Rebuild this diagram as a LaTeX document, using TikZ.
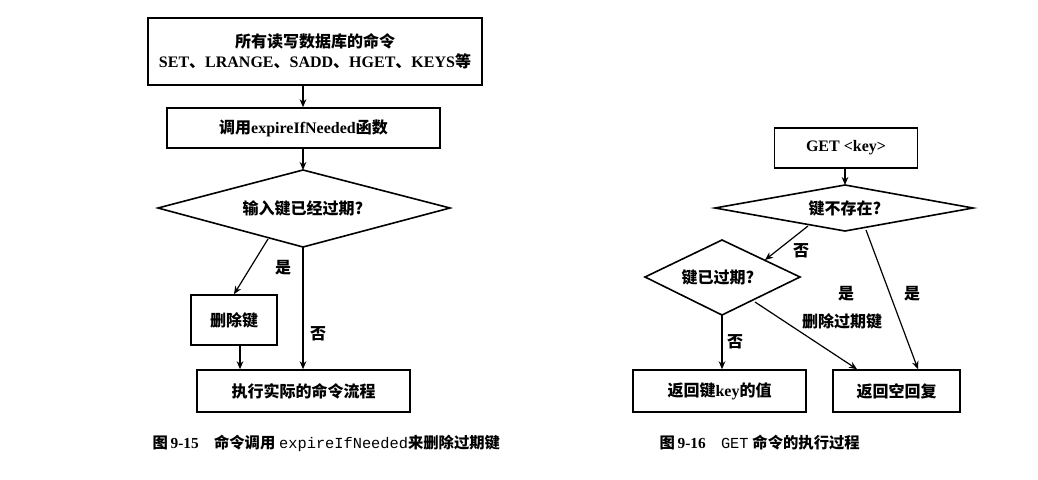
\documentclass[tikz,border=0pt]{standalone}
\usepackage{fontspec}
\setmainfont{Liberation Serif}
\setmonofont{Liberation Mono}
\newfontfamily\zhf{Noto Sans CJK SC}
\newcommand{\zh}[1]{{\zhf #1}}
\usetikzlibrary{shapes.geometric,arrows.meta}
\begin{document}
\begin{tikzpicture}[x=0.75pt,y=-0.75pt,
  box/.style={draw,line width=1.2pt,inner sep=0pt,font=\bfseries\fontsize{12}{15}\selectfont,align=center},
  lab/.style={font=\bfseries\fontsize{12}{15}\selectfont},
  arr/.style={-{Stealth[length=6pt,width=5pt]},line width=0.9pt}]
\useasboundingbox (0,0) rectangle (1038,479);
% left
\node[box,minimum width=334*0.75pt,minimum height=67*0.75pt] (top) at (315,51.5) {\zh{所有读写数据库的命令}\\SET\zh{、}LRANGE\zh{、}SADD\zh{、}HGET\zh{、}KEYS\zh{等}};
\node[box,minimum width=273*0.75pt,minimum height=40*0.75pt] (call) at (303.5,128) {\zh{调用}expireIfNeeded\zh{函数}};
\draw[line width=1.2pt] (158,208) -- (303,170) -- (450,208) -- (303,247) -- cycle;
\node[lab] (d1) at (303,208) {\zh{输入键已经过期?}};
\coordinate (d1t) at (303,170);
\coordinate (d1b) at (303,247);
\coordinate (d1l) at (268,239);
\node[box,minimum width=86*0.75pt,minimum height=50*0.75pt] (del) at (234,320) {\zh{删除键}};
\node[box,minimum width=213*0.75pt,minimum height=42*0.75pt] (exec) at (303.5,391) {\zh{执行实际的命令流程}};
\draw[arr] (top.south -| d1t) -- (call.north -| d1t);
\draw[arr] (call.south -| d1t) -- (d1t);
\draw[arr] (d1l) -- (del.north);
\draw[arr] (d1b) -- (exec.north -| d1b);
\draw[arr] (del.south -| 240,0) -- (exec.north -| 240,0);
\node[lab] at (283,268) {\zh{是}};
\node[lab] at (318,334) {\zh{否}};
\node[font=\bfseries\fontsize{11.5}{13}\selectfont,anchor=west] (cap1) at (148,443) {\zh{图}\,9-15\quad\zh{命令调用} {\ttfamily\mdseries expireIfNeeded}\zh{来删除过期键}};
% right
\node[box,minimum width=143*0.75pt,minimum height=40*0.75pt] (get) at (846,148) {GET {<}key{>}};
\draw[line width=1.2pt] (715,208) -- (845,185) -- (973,208) -- (845,231) -- cycle;
\coordinate (d2t) at (845,185);
\node[lab] (d2) at (845,208) {\zh{键不存在?}};
\draw[line width=1.2pt] (645,277) -- (722,240) -- (800,277) -- (722,315) -- cycle;
\coordinate (d3b) at (722,315);
\node[lab] (d3) at (718,277) {\zh{键已过期?}};
\node[box,minimum width=173*0.75pt,minimum height=42*0.75pt] (val) at (719.5,391) {\zh{返回键}key\zh{的值}};
\node[box,minimum width=127*0.75pt,minimum height=42*0.75pt] (nil) at (896.5,391) {\zh{返回空回复}};
\draw[arr] (get.south -| d2t) -- (d2t);
\draw[arr] (808,226) -- (765,260);
\draw[arr] (d3b) -- (val.north -| d3b);
\draw[arr] (755,302) -- (nil.north -| 857,0);
\draw[arr] (866,230) -- (nil.north -| 918,0);
\node[lab] at (801,251) {\zh{否}};
\node[lab] at (735,342) {\zh{否}};
\node[lab] at (846,294) {\zh{是}};
\node[lab] at (842,321) {\zh{删除过期键}};
\node[lab] at (912,294) {\zh{是}};
\node[font=\bfseries\fontsize{11.5}{13}\selectfont,anchor=west] (cap2) at (655,443) {\zh{图}\,9-16\quad{\ttfamily\mdseries GET} \zh{命令的执行过程}};
\end{tikzpicture}
\end{document}
